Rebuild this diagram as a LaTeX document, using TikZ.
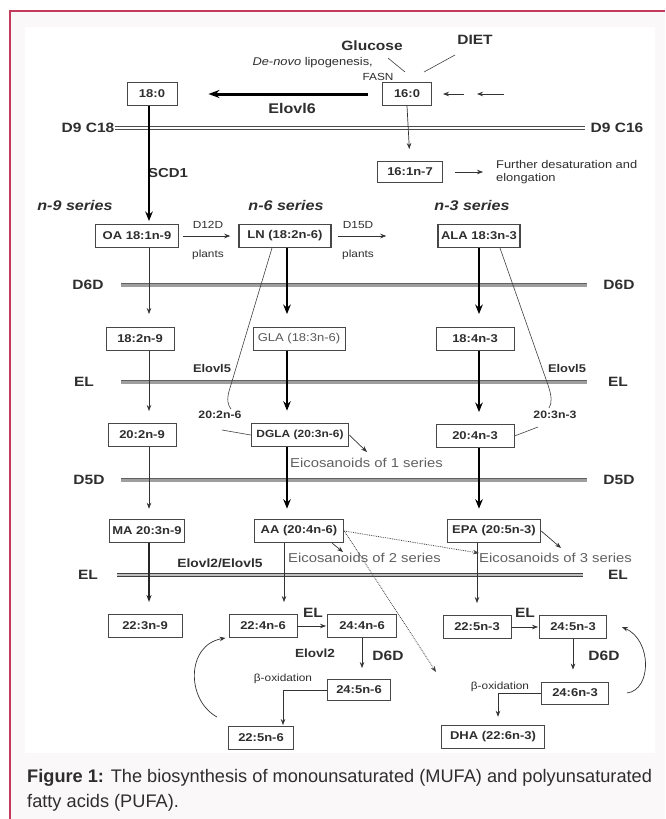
\documentclass[tikz,border=0pt]{standalone}
\usepackage{fontspec}
\setmainfont{Liberation Sans}
\newfontfamily\dfont[FakeStretch=1.15]{Liberation Sans}
\usetikzlibrary{arrows.meta,calc}
\definecolor{framered}{HTML}{C33A5C}
\definecolor{bgpink}{HTML}{FBF8F9}
\definecolor{txt}{HTML}{2E2E2E}
\newcommand\fsz[1]{\fontsize{#1}{#1}\selectfont}
\begin{document}
\begin{tikzpicture}[x=1pt,y=-1pt,
  box/.style={draw=black!72,line width=0.9pt,fill=white,minimum height=23pt,inner sep=1pt,text=txt,font=\dfont\fsz{11.3}\bfseries},
  bbox/.style={box,line width=1.5pt},
  lab/.style={font=\dfont\fsz{13.5}\bfseries,text=txt,inner sep=0pt},
  small/.style={font=\dfont\fsz{10.3},text=txt,inner sep=0pt},
  msmall/.style={font=\dfont\fsz{11.2},text=txt,inner sep=0pt},
  ser/.style={font=\dfont\fsz{14}\bfseries\itshape,text=txt,inner sep=0pt},
  eico/.style={font=\dfont\fsz{12.9},text=black!62,inner sep=0pt,anchor=west},
  bar/.style={draw=black!62,double=black!38,double distance=3pt,line width=0.9pt},
  dbar/.style={draw=black!70,double=white,double distance=2.2pt,line width=0.6pt},
  dbarg/.style={draw=black!75,double=black!25,double distance=2.4pt,line width=0.7pt},
  thinar/.style={draw=black!80,line width=0.7pt,-{Stealth[length=6pt,width=4.5pt]}},
  medar/.style={draw=black!85,line width=1.1pt,-{Stealth[length=7pt,width=5pt]}},
  thickar/.style={draw=black,line width=2.3pt,-{Stealth[length=9.5pt,width=7.5pt]}},
  plain/.style={draw=black!75,line width=0.6pt},
  dotar/.style={draw=black!75,line width=0.8pt,densely dotted,-{Stealth[length=6pt,width=4.5pt]}}
]
\useasboundingbox (0,0) rectangle (665,819);
% frame and backgrounds
\fill[white] (0,0) rectangle (665,819);
\fill[bgpink] (10,11) rectangle (665,819);
\fill[white] (25,27) rectangle (655,753);
\draw[framered,line width=1.6pt] (10,819) -- (10,11) -- (665,11);

% column and helper coordinates
\coordinate (c9) at (149,0);
\coordinate (c6) at (287,0);
\coordinate (c3) at (479,0);
\coordinate (c6b) at (284,0);
\coordinate (c3b) at (477,0);
\coordinate (barL) at (121,0);
\coordinate (barR) at (587,0);
\coordinate (e1x) at (283,0);
\coordinate (e2x) at (498,0);

% boxes
\node[box,minimum width=50pt] (b180) at (152,94) {18:0};
\node[box,minimum width=49pt] (b160) at (407,94) {16:0};
\node[box,minimum width=65pt,minimum height=21pt] (b161) at (410,172) {16:1n-7};
\node[box,minimum width=83pt] (oa) at (137,236) {OA 18:1n-9};
\node[bbox,minimum width=92pt] (ln) at (285,236) {LN (18:2n-6)};
\node[bbox,minimum width=82pt] (ala) at (479,236) {ALA 18:3n-3};
\node[box,minimum width=68pt] (b182) at (140,339) {18:2n-9};
\node[box,minimum width=92pt,font=\dfont\fsz{11.3},text=black!65] (gla) at (299,339) {GLA (18:3n-6)};
\node[box,minimum width=78pt] (b184) at (475,339) {18:4n-3};
\node[box,minimum width=68pt] (b202) at (142,435) {20:2n-9};
\node[bbox,minimum width=97pt,font=\dfont\fsz{10.4}\bfseries] (dgla) at (300,435) {DGLA (20:3n-6)};
\node[box,minimum width=78pt] (b204) at (475,436) {20:4n-3};
\node[bbox,minimum width=75pt] (ma) at (147,531) {MA 20:3n-9};
\node[bbox,minimum width=89pt] (aa) at (299,531) {AA (20:4n-6)};
\node[bbox,minimum width=93pt] (epa) at (494,531) {EPA (20:5n-3)};
\node[box,minimum width=74pt] (b223) at (145,626) {22:3n-9};
\node[box,minimum width=68pt] (b224) at (263,626) {22:4n-6};
\node[box,minimum width=69pt] (b244) at (362,626) {24:4n-6};
\node[box,minimum width=68pt] (b225c) at (477,627) {22:5n-3};
\node[box,minimum width=67pt] (b245c) at (573,627) {24:5n-3};
\node[box,minimum width=63pt,minimum height=21pt] (b245) at (359,690) {24:5n-6};
\node[box,minimum width=67pt,minimum height=22pt] (b246) at (575,693) {24:6n-3};
\node[box,minimum width=65pt] (b225) at (261,738) {22:5n-6};
\node[bbox,minimum width=103pt] (dha) at (493,737) {DHA (22:6n-3)};

% bar labels
\node[lab] (d9l) at (88,128) {D9 C18};
\node[lab] (d9r) at (617,128) {D9 C16};
\node[lab] (d6l) at (88,285) {D6D};
\node[lab] (d6r) at (619,285) {D6D};
\node[lab] (ell) at (84,382) {EL};
\node[lab] (elr) at (618,382) {EL};
\node[lab] (d5l) at (89,480) {D5D};
\node[lab] (d5r) at (619,480) {D5D};
\node[lab] (el2l) at (88,575) {EL};
\node[lab] (el2r) at (618,575) {EL};

% bars
\draw[dbar] (d9l.east) -- (585,128);
\draw[bar] (d6l -| barL) -- (d6r -| barR);
\draw[bar] (ell -| barL) -- (elr -| barR);
\draw[bar] (d5l -| barL) -- (d5r -| barR);
\draw[dbarg] (117,575) -- (583,575);

% top texts
\node[lab] (gluc) at (372,46) {Glucose};
\node[lab] (diet) at (475,40) {DIET};
\node[msmall,anchor=east] (denovo) at (373,63) {\textit{De-novo} lipogenesis,};
\node[small] (fasn) at (378,77) {FASN};
\node[lab,font=\dfont\fsz{14}\bfseries] (elovl6) at (292,108) {Elovl6};
\node[lab,font=\dfont\fsz{13}\bfseries] (scd1) at (168,173) {SCD1};
\node[msmall,anchor=west,align=left] (further) at (496,172) {Further desaturation and\\[2pt]elongation};
\node[ser] (n9) at (75,205) {n-9 series};
\node[ser] (n6) at (286,205) {n-6 series};
\node[ser] (n3) at (472,205) {n-3 series};
\node[small] (d12d) at (208,225) {D12D};
\node[small] (pl1) at (208,255) {plants};
\node[small] (d15d) at (358,225) {D15D};
\node[small] (pl2) at (358,255) {plants};
\node[lab,font=\dfont\fsz{11.2}\bfseries] (elo5a) at (212,368) {Elovl5};
\node[lab,font=\dfont\fsz{11.2}\bfseries] (elo5b) at (567,368) {Elovl5};
\node[lab,font=\dfont\fsz{10.7}\bfseries] (l202) at (220,415) {20:2n-6};
\node[lab,font=\dfont\fsz{10.7}\bfseries] (l203) at (555,415) {20:3n-3};
\node[eico] (eic1) at (290,463) {Eicosanoids of 1 series};
\node[eico] (eic2) at (288,558) {Eicosanoids of 2 series};
\node[eico] (eic3) at (479,558) {Eicosanoids of 3 series};
\node[lab,font=\dfont\fsz{12}\bfseries] (elo25) at (220,563) {Elovl2/Elovl5};
\node[lab,font=\dfont\fsz{13.5}\bfseries] (elA) at (313,613) {EL};
\node[lab,font=\dfont\fsz{11.8}\bfseries] (elo2) at (315,653) {Elovl2};
\node[lab,font=\dfont\fsz{13.5}\bfseries] (d6A) at (388,656) {D6D};
\node[small] (boxA) at (283,679) {β-oxidation};
\node[lab,font=\dfont\fsz{13.5}\bfseries] (elB) at (525,613) {EL};
\node[lab,font=\dfont\fsz{13.5}\bfseries] (d6B) at (604,656) {D6D};
\node[small] (boxB) at (500,687) {β-oxidation};

% caption
\node[anchor=west,inner sep=0pt,font=\fsz{18.2},text=black!82] (cap1) at (27,778) {\textbf{Figure 1:} The biosynthesis of monounsaturated (MUFA) and polyunsaturated};
\node[anchor=west,inner sep=0pt,font=\fsz{18.2},text=black!82] (cap2) at (27,803) {fatty acids (PUFA).};

% free-end coordinates
\coordinate (gl1) at (388,58); \coordinate (gl2) at (405,72);
\coordinate (di1) at (455,55); \coordinate (di2) at (424,72);
\coordinate (ar1s) at (464,94); \coordinate (ar1e) at (443,94);
\coordinate (ar2s) at (504,94); \coordinate (ar2e) at (477,94);
\coordinate (lnL) at (272,248); \coordinate (alaR) at (500,248);
\coordinate (eic1t) at (367,452);
\coordinate (eic2t) at (343,552);
\coordinate (eic3t) at (561,548);
\coordinate (dotend) at (436,672);

% top connectors
\draw[plain] (gl1) -- (gl2);
\draw[plain] (di1) -- (di2);
\draw[thinar] (ar1s) -- (ar1e);
\draw[thinar] (ar2s) -- (ar2e);
\draw[draw=black,line width=3pt,-{Stealth[length=11pt,width=8pt]},shorten <=14pt,shorten >=31pt] (b160.west) -- (b180.east);
\draw[thinar,shorten >=12pt] (b160.south) -- (b161.north);
\draw[thinar,shorten <=12pt,shorten >=13pt] (b161.east) -- (further.west |- b161.east);
\draw[thickar,shorten >=3pt] (b180.south -| c9) -- (oa.north -| c9);

% horizontal row 1
\draw[thinar,shorten <=4pt,shorten >=8pt] (oa.east) -- (ln.west);
\draw[thinar,shorten <=6pt,shorten >=51pt] (ln.east) -- (ala.west);

% vertical column arrows
\draw[thinar,shorten >=13pt] (oa.south -| c9) -- (b182.north -| c9);
\draw[thinar,shorten >=12pt] (b182.south -| c9) -- (b202.north -| c9);
\draw[thinar,shorten >=10pt] (b202.south -| c9) -- (ma.north -| c9);
\draw[medar,shorten >=12pt] (ma.south -| c9) -- (b223.north -| c9);
\draw[thickar,shorten >=13pt] (ln.south -| c6) -- (gla.north -| c6);
\draw[thickar,shorten >=12pt] (gla.south -| c6) -- (dgla.north -| c6);
\draw[thickar,shorten >=10pt] (dgla.south -| c6) -- (aa.north -| c6);
\draw[thinar,shorten >=12pt] (aa.south -| c6b) -- (b224.north -| c6b);
\draw[thickar,shorten >=13pt] (ala.south -| c3) -- (b184.north -| c3);
\draw[thickar,shorten >=12pt] (b184.south -| c3) -- (b204.north -| c3);
\draw[thickar,shorten >=10pt] (b204.south -| c3) -- (epa.north -| c3);
\draw[thinar,shorten >=12pt] (epa.south -| c3b) -- (b225c.north -| c3b);

% elovl5 side branches
\draw[plain] (lnL) -- (230,388) .. controls (226,400) and (228,405) .. (231,409);
\draw[plain] (alaR) -- (548,385) .. controls (552,397) and (552,403) .. (549,408);
\draw[plain] (222,430) -- (dgla.west);
\draw[plain] (538,427) -- (b204.east);

% eicosanoid arrows
\draw[thinar] (dgla.east) -- (eic1t);
\draw[thinar] ([xshift=-12pt]aa.south east) -- (eic2t);
\draw[thinar] (epa.east) -- (eic3t);
\draw[dotar] (aa.east) -- (eic3.north west);
\draw[dotar] (aa.east) -- (dotend);

% lower part
\draw[thinar,shorten >=1pt] (b224.east) -- (b244.west);
\draw[thinar,shorten >=1pt] (b225c.east) -- (b245c.west);
\draw[thinar,shorten >=11pt] (b244.south) -- (b244.south |- b245.north);
\draw[thinar,shorten >=12pt] (b245c.south) -- (b245c.south |- b246.north);
\draw[thinar,shorten >=1pt] (b245.west) -| (e1x |- b225.north);
\draw[thinar,shorten >=8pt] (b246.west) -| (e2x |- dha.north);
\draw[thinar] ([shift={(-11,-9)}]b225.north west) .. controls (186,700) and (186,645) .. ([xshift=-3pt]b224.south west);
\draw[thinar] ([xshift=18pt]b246.east) .. controls (652,690) and (652,640) .. ([xshift=15pt]b245c.east);
\end{tikzpicture}
\end{document}
